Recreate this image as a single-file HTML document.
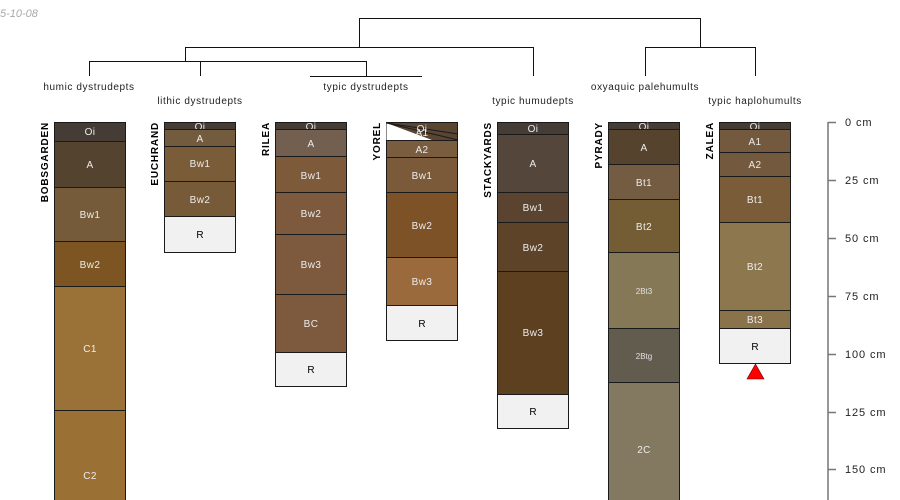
<!DOCTYPE html>
<html><head><meta charset="utf-8"><style>
html,body{margin:0;padding:0;background:#fff;}
svg{display:block;font-family:"Liberation Sans",sans-serif;}
.h{font-size:10px;fill:#ececec;text-anchor:middle;letter-spacing:0.4px;}
.r{font-size:10px;fill:#000;text-anchor:middle;}
.s{font-size:8px;fill:#e0e0e0;text-anchor:middle;}
.n{font-size:10px;font-weight:bold;fill:#000;text-anchor:end;letter-spacing:0.8px;}
.t{font-size:10px;fill:#222;text-anchor:middle;letter-spacing:0.6px;}
.ax{font-size:11px;fill:#222;letter-spacing:0.9px;}
rect{stroke:#1a1a1a;stroke-width:1;}
</style></head><body>
<svg width="900" height="500" viewBox="0 0 900 500" xmlns="http://www.w3.org/2000/svg">
<text x="0" y="17" style="font-size:11px;font-style:italic;fill:#aaa">5-10-08</text>
<g stroke="#111" stroke-width="1" fill="none">
<path d="M359.5 47V18.5H700.5V47"/>
<path d="M185.5 61V47.5H533.5V76"/>
<path d="M645.5 76V47.5H755.5V76"/>
<path d="M89.5 76V61.5H283"/>
<path d="M200.5 76V61.5H366.5V76"/>
<path d="M310 76.5H422"/>
</g>
<text class="t" x="89" y="90">humic dystrudepts</text>
<text class="t" x="200" y="104">lithic dystrudepts</text>
<text class="t" x="366" y="90">typic dystrudepts</text>
<text class="t" x="533" y="104">typic humudepts</text>
<text class="t" x="645" y="90">oxyaquic palehumults</text>
<text class="t" x="755" y="104">typic haplohumults</text>

<rect x="54.5" y="122.5" width="71" height="19" fill="#463c36"/><text class="h" x="90" y="135">Oi</text>
<rect x="54.5" y="141.5" width="71" height="46" fill="#54442f"/><text class="h" x="90" y="168">A</text>
<rect x="54.5" y="187.5" width="71" height="54" fill="#765b3a"/><text class="h" x="90" y="218">Bw1</text>
<rect x="54.5" y="241.5" width="71" height="45" fill="#7c5523"/><text class="h" x="90" y="268">Bw2</text>
<rect x="54.5" y="286.5" width="71" height="124" fill="#9a7238"/><text class="h" x="90" y="352">C1</text>
<rect x="54.5" y="410.5" width="71" height="100" fill="#9a7035"/><text class="h" x="90" y="479">C2</text>
<text class="n" transform="translate(48,122) rotate(-90)">BOBSGARDEN</text>

<rect x="164.5" y="122.5" width="71" height="7" fill="#463c36"/><text class="h" x="200" y="130">Oi</text>
<rect x="164.5" y="129.5" width="71" height="17" fill="#735b3e"/><text class="h" x="200" y="142">A</text>
<rect x="164.5" y="146.5" width="71" height="35" fill="#7a5c38"/><text class="h" x="200" y="167">Bw1</text>
<rect x="164.5" y="181.5" width="71" height="35" fill="#775a37"/><text class="h" x="200" y="203">Bw2</text>
<rect x="164.5" y="216.5" width="71" height="36" fill="#f1f1f1"/><text class="r" x="200" y="238">R</text>
<text class="n" transform="translate(158,122) rotate(-90)">EUCHRAND</text>

<rect x="275.5" y="122.5" width="71" height="7" fill="#463c36"/><text class="h" x="311" y="130">Oi</text>
<rect x="275.5" y="129.5" width="71" height="27" fill="#735f50"/><text class="h" x="311" y="147">A</text>
<rect x="275.5" y="156.5" width="71" height="36" fill="#7d5a3a"/><text class="h" x="311" y="179">Bw1</text>
<rect x="275.5" y="192.5" width="71" height="42" fill="#7d5a3d"/><text class="h" x="311" y="217">Bw2</text>
<rect x="275.5" y="234.5" width="71" height="60" fill="#7d5a3d"/><text class="h" x="311" y="268">Bw3</text>
<rect x="275.5" y="294.5" width="71" height="58" fill="#7d5a3d"/><text class="h" x="311" y="327">BC</text>
<rect x="275.5" y="352.5" width="71" height="34" fill="#f1f1f1"/><text class="r" x="311" y="373">R</text>
<text class="n" transform="translate(269,122) rotate(-90)">RILEA</text>

<rect x="386.5" y="122.5" width="71" height="18" fill="#5a4533"/>
<polygon points="386.5,123 386.5,140 432,140" fill="#fff"/>
<path d="M386.5 123L458 140M386.5 123L458 134" stroke="#1a1a1a" fill="none"/>
<text class="h" x="422" y="132">Oi</text><text class="h" x="422" y="136">A1</text>
<rect x="386.5" y="140.5" width="71" height="17" fill="#7a5c3e"/><text class="h" x="422" y="153">A2</text>
<rect x="386.5" y="157.5" width="71" height="35" fill="#7a5a38"/><text class="h" x="422" y="179">Bw1</text>
<rect x="386.5" y="192.5" width="71" height="65" fill="#7d5226"/><text class="h" x="422" y="229">Bw2</text>
<rect x="386.5" y="257.5" width="71" height="48" fill="#9b6a3c"/><text class="h" x="422" y="285">Bw3</text>
<rect x="386.5" y="305.5" width="71" height="35" fill="#f1f1f1"/><text class="r" x="422" y="327">R</text>
<text class="n" transform="translate(380,122) rotate(-90)">YOREL</text>

<rect x="497.5" y="122.5" width="71" height="12" fill="#463c36"/><text class="h" x="533" y="132">Oi</text>
<rect x="497.5" y="134.5" width="71" height="58" fill="#54463a"/><text class="h" x="533" y="167">A</text>
<rect x="497.5" y="192.5" width="71" height="30" fill="#5a4430"/><text class="h" x="533" y="211">Bw1</text>
<rect x="497.5" y="222.5" width="71" height="49" fill="#5d4328"/><text class="h" x="533" y="251">Bw2</text>
<rect x="497.5" y="271.5" width="71" height="123" fill="#5d4020"/><text class="h" x="533" y="336">Bw3</text>
<rect x="497.5" y="394.5" width="71" height="34" fill="#f1f1f1"/><text class="r" x="533" y="415">R</text>
<text class="n" transform="translate(491,122) rotate(-90)">STACKYARDS</text>

<rect x="608.5" y="122.5" width="71" height="7" fill="#463c36"/><text class="h" x="644" y="130">Oi</text>
<rect x="608.5" y="129.5" width="71" height="35" fill="#55432e"/><text class="h" x="644" y="151">A</text>
<rect x="608.5" y="164.5" width="71" height="35" fill="#735c41"/><text class="h" x="644" y="186">Bt1</text>
<rect x="608.5" y="199.5" width="71" height="53" fill="#745c35"/><text class="h" x="644" y="230">Bt2</text>
<rect x="608.5" y="252.5" width="71" height="76" fill="#847856"/><text class="s" x="644" y="294">2Bt3</text>
<rect x="608.5" y="328.5" width="71" height="54" fill="#625c4f"/><text class="s" x="644" y="359">2Btg</text>
<rect x="608.5" y="382.5" width="71" height="130" fill="#837860"/><text class="h" x="644" y="453">2C</text>
<text class="n" transform="translate(602,122) rotate(-90)">PYRADY</text>

<rect x="719.5" y="122.5" width="71" height="7" fill="#463c36"/><text class="h" x="755" y="130">Oi</text>
<rect x="719.5" y="129.5" width="71" height="23" fill="#735a3e"/><text class="h" x="755" y="145">A1</text>
<rect x="719.5" y="152.5" width="71" height="24" fill="#735a3e"/><text class="h" x="755" y="168">A2</text>
<rect x="719.5" y="176.5" width="71" height="46" fill="#7a5c38"/><text class="h" x="755" y="203">Bt1</text>
<rect x="719.5" y="222.5" width="71" height="88" fill="#8d774e"/><text class="h" x="755" y="270">Bt2</text>
<rect x="719.5" y="310.5" width="71" height="18" fill="#8a724a"/><text class="h" x="755" y="323">Bt3</text>
<rect x="719.5" y="328.5" width="71" height="35" fill="#f1f1f1"/><text class="r" x="755" y="350">R</text>
<polygon points="755.5,364 764,379 747,379" fill="#f00" stroke="#600" stroke-width="0.6"/>
<text class="n" transform="translate(713,122) rotate(-90)">ZALEA</text>

<g stroke="#777" stroke-width="1.5">
<line x1="828" y1="122" x2="828" y2="500"/>
<line x1="828" y1="122.5" x2="836" y2="122.5"/>
<line x1="828" y1="180.5" x2="836" y2="180.5"/>
<line x1="828" y1="238.5" x2="836" y2="238.5"/>
<line x1="828" y1="296.5" x2="836" y2="296.5"/>
<line x1="828" y1="354.5" x2="836" y2="354.5"/>
<line x1="828" y1="412.5" x2="836" y2="412.5"/>
<line x1="828" y1="469.5" x2="836" y2="469.5"/>
</g>
<text class="ax" x="845" y="126">0 cm</text>
<text class="ax" x="845" y="184">25 cm</text>
<text class="ax" x="845" y="242">50 cm</text>
<text class="ax" x="845" y="300">75 cm</text>
<text class="ax" x="845" y="358">100 cm</text>
<text class="ax" x="845" y="416">125 cm</text>
<text class="ax" x="845" y="473">150 cm</text>
</svg>
</body></html>
